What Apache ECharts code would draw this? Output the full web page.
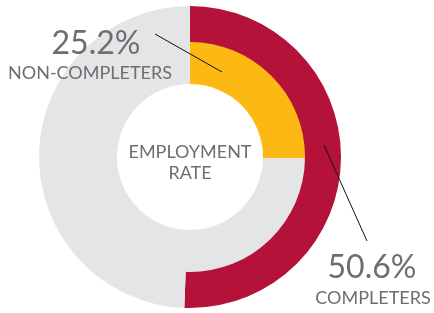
<!DOCTYPE html>
<html><head><meta charset="utf-8">
<script src="https://cdn.jsdelivr.net/npm/echarts@6/dist/echarts.min.js"></script>
<style>html,body{margin:0;padding:0;background:#fff}#c{width:434px;height:313px}</style>
</head><body><div id="c"></div>
<script>
const categories = ['COMPLETERS', 'NON-COMPLETERS'];
const employmentRates = [50.6, 25.2];
const centerTitle = ['EMPLOYMENT', 'RATE'];
const colors = ['#B5123A', '#FDB913'];
const restColor = '#E4E5E7';
const textColor = '#6D6E71';

const chart = echarts.init(document.getElementById('c'), null, {renderer: 'canvas'});
const FONT = 'Lato, "Open Sans", sans-serif';

function ringData(i) {
  return [
    {value: employmentRates[i], name: categories[i], itemStyle: {color: colors[i]}},
    {value: +(100 - employmentRates[i]).toFixed(1), name: 'rest', itemStyle: {color: restColor}}
  ];
}
const pieBase = {type: 'pie', center: [190, 157], startAngle: 90, clockwise: true, silent: true,
  label: {show: false}, labelLine: {show: false}, itemStyle: {borderWidth: 0}};

function labelGroup(i, bx, by, sx, sy, line) {
  return [
    {type: 'text', x: bx, y: by, z: 10,
     style: {text: employmentRates[i] + '%', textAlign: 'center', textVerticalAlign: 'middle',
             fill: textColor, font: '32px ' + FONT}},
    {type: 'text', x: sx, y: sy, z: 10,
     style: {text: categories[i], textAlign: 'center', textVerticalAlign: 'middle',
             fill: textColor, font: '18px ' + FONT}},
    {type: 'line', z: 10, shape: {x1: line[0], y1: line[1], x2: line[2], y2: line[3]},
     style: {stroke: '#111', lineWidth: 1}}
  ];
}

chart.setOption({
  animation: false,
  series: [
    Object.assign({}, pieBase, {radius: [114, 151], data: ringData(0)}),
    Object.assign({}, pieBase, {radius: [73, 115], data: ringData(1)})
  ],
  graphic: [
    {type: 'text', x: 190, y: 152, z: 10,
     style: {text: centerTitle[0], textAlign: 'center', textVerticalAlign: 'middle', fill: textColor, font: '18px ' + FONT}},
    {type: 'text', x: 190, y: 173, z: 10,
     style: {text: centerTitle[1], textAlign: 'center', textVerticalAlign: 'middle', fill: textColor, font: '18px ' + FONT}}
  ].concat(labelGroup(1, 96, 44, 90, 73, [155, 34, 222, 72]))
   .concat(labelGroup(0, 372, 268, 373, 298, [324, 145, 367, 241]))
});
</script></body></html>
